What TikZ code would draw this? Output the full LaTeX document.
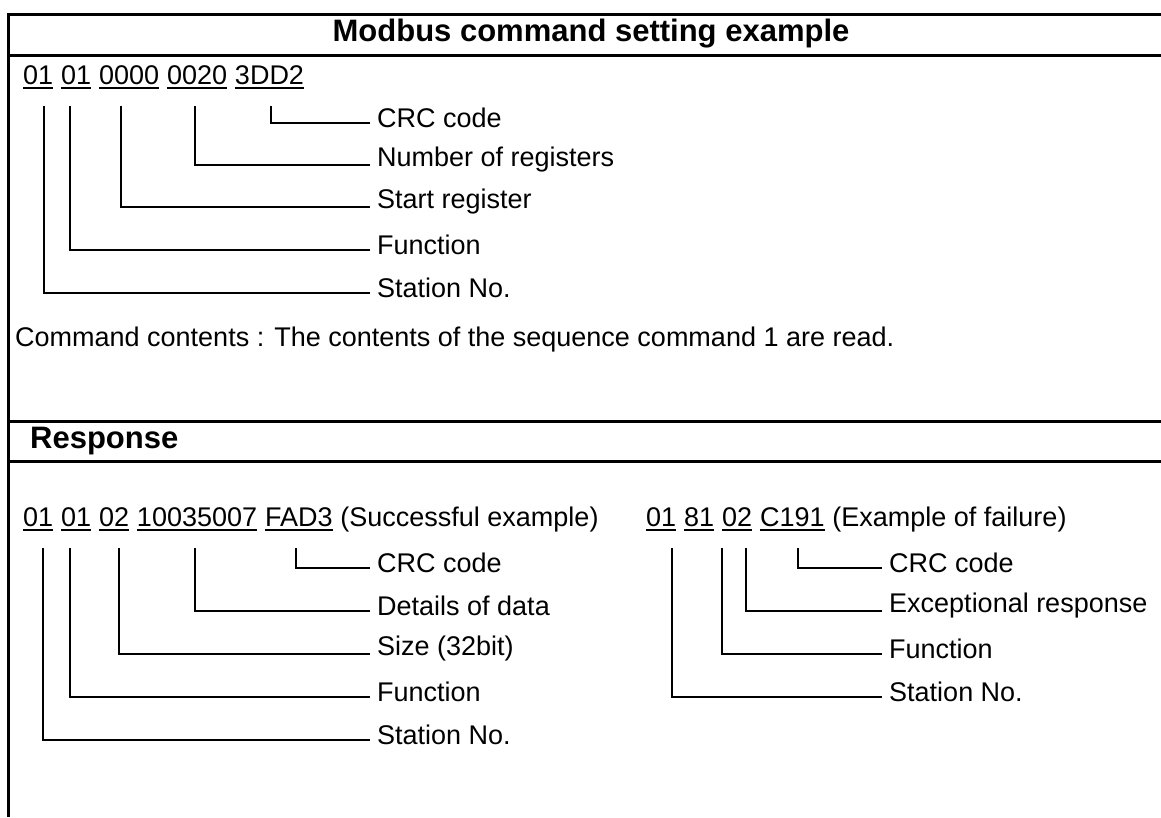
\documentclass[tikz,border=0pt]{standalone}
\usepackage{fontspec}
\setmainfont{Liberation Sans}
\usetikzlibrary{positioning}
\tikzset{
  frameln/.style={line width=3pt},
  txt/.style={inner sep=0pt,font=\fontsize{27}{31}\selectfont},
  head/.style={inner sep=0pt,font=\bfseries\fontsize{31}{35}\selectfont},
  hexfld/.style={txt,anchor=base west},
  lbl/.style={txt,anchor=west,inner xsep=7pt},
  conn/.style={line width=1.8pt},
  ul/.style={line width=2.3pt}
}
\begin{document}
\begin{tikzpicture}[x=1pt,y=-1pt,node distance=7.5pt]
  \useasboundingbox (0,0) rectangle (1161,817);

  % frame
  \draw[frameln] (1161,14) -- (8,14) -- (8,817);
  \draw[frameln] (8,55) -- (1161,55);
  \draw[frameln] (8,421) -- (1161,421);
  \draw[frameln] (8,461) -- (1161,461);

  \node[head] (title) at (591,34) {Modbus command setting example};
  \node[head,anchor=west] (resp) at (30,441) {Response};

  % command frame
  \node[hexfld] (cStn) at (23,84) {01};
  \node[hexfld, base right=of cStn] (cFn) {01};
  \node[hexfld, base right=of cFn] (cStart) {0000};
  \node[hexfld, base right=of cStart] (cNum) {0020};
  \node[hexfld, base right=of cNum] (cCrc) {3DD2};

  \node[lbl] (lcCrc) at (370,118) {CRC code};
  \node[lbl] (lcNum) at (370,160) {Number of registers};
  \node[lbl] (lcStart) at (370,202) {Start register};
  \node[lbl] (lcFn) at (370,245) {Function};
  \node[lbl] (lcStn) at (370,288) {Station No.};

  \node[txt,anchor=west] (contents) at (15,340) {Command contents : The contents of the sequence command 1 are read.};

  \foreach \f in {cStn,cFn,cStart,cNum,cCrc}
    \draw[ul] ([yshift=-4pt]\f.base west) -- ([yshift=-4pt]\f.base east);

  \draw[conn] ([xshift=36pt,yshift=-22pt]cCrc.base west) |- ([yshift=-5pt]lcCrc.west);
  \draw[conn] ([xshift=28pt,yshift=-22pt]cNum.base west) |- ([yshift=-5pt]lcNum.west);
  \draw[conn] ([xshift=22pt,yshift=-22pt]cStart.base west) |- ([yshift=-5pt]lcStart.west);
  \draw[conn] ([xshift=9pt,yshift=-22pt]cFn.base west) |- ([yshift=-5pt]lcFn.west);
  \draw[conn] ([xshift=21pt,yshift=-22pt]cStn.base west) |- ([yshift=-5pt]lcStn.west);

  % response, successful
  \node[hexfld] (rStn) at (23,526) {01};
  \node[hexfld, base right=of rStn] (rFn) {01};
  \node[hexfld, base right=of rFn] (rSize) {02};
  \node[hexfld, base right=of rSize] (rData) {10035007};
  \node[hexfld, base right=of rData] (rCrc) {FAD3};
  \node[hexfld, base right=of rCrc] (okNote) {(Successful example)};

  \node[lbl] (lrCrc) at (370,563) {CRC code};
  \node[lbl] (lrData) at (370,606) {Details of data};
  \node[lbl] (lrSize) at (370,649) {Size (32bit)};
  \node[lbl] (lrFn) at (370,692) {Function};
  \node[lbl] (lrStn) at (370,735) {Station No.};

  \foreach \f in {rStn,rFn,rSize,rData,rCrc}
    \draw[ul] ([yshift=-4pt]\f.base west) -- ([yshift=-4pt]\f.base east);

  \draw[conn] ([xshift=31pt,yshift=-22pt]rCrc.base west) |- ([yshift=-5pt]lrCrc.west);
  \draw[conn] ([xshift=58pt,yshift=-22pt]rData.base west) |- ([yshift=-5pt]lrData.west);
  \draw[conn] ([xshift=20pt,yshift=-22pt]rSize.base west) |- ([yshift=-5pt]lrSize.west);
  \draw[conn] ([xshift=9pt,yshift=-22pt]rFn.base west) |- ([yshift=-5pt]lrFn.west);
  \draw[conn] ([xshift=20pt,yshift=-22pt]rStn.base west) |- ([yshift=-5pt]lrStn.west);

  % response, failure
  \node[hexfld] (fStn) at (646,526) {01};
  \node[hexfld, base right=of fStn] (fFn) {81};
  \node[hexfld, base right=of fFn] (fExc) {02};
  \node[hexfld, base right=of fExc] (fCrc) {C191};
  \node[hexfld, base right=of fCrc] (ngNote) {(Example of failure)};

  \node[lbl] (lfCrc) at (882,563) {CRC code};
  \node[lbl] (lfExc) at (882,606) {Exceptional response};
  \node[lbl] (lfFn) at (882,649) {Function};
  \node[lbl] (lfStn) at (882,692) {Station No.};

  \foreach \f in {fStn,fFn,fExc,fCrc}
    \draw[ul] ([yshift=-4pt]\f.base west) -- ([yshift=-4pt]\f.base east);

  \draw[conn] ([xshift=38pt,yshift=-22pt]fCrc.base west) |- ([yshift=-5pt]lfCrc.west);
  \draw[conn] ([xshift=24pt,yshift=-22pt]fExc.base west) |- ([yshift=-5pt]lfExc.west);
  \draw[conn] ([xshift=38pt,yshift=-22pt]fFn.base west) |- ([yshift=-5pt]lfFn.west);
  \draw[conn] ([xshift=26pt,yshift=-22pt]fStn.base west) |- ([yshift=-5pt]lfStn.west);
\end{tikzpicture}
\end{document}
